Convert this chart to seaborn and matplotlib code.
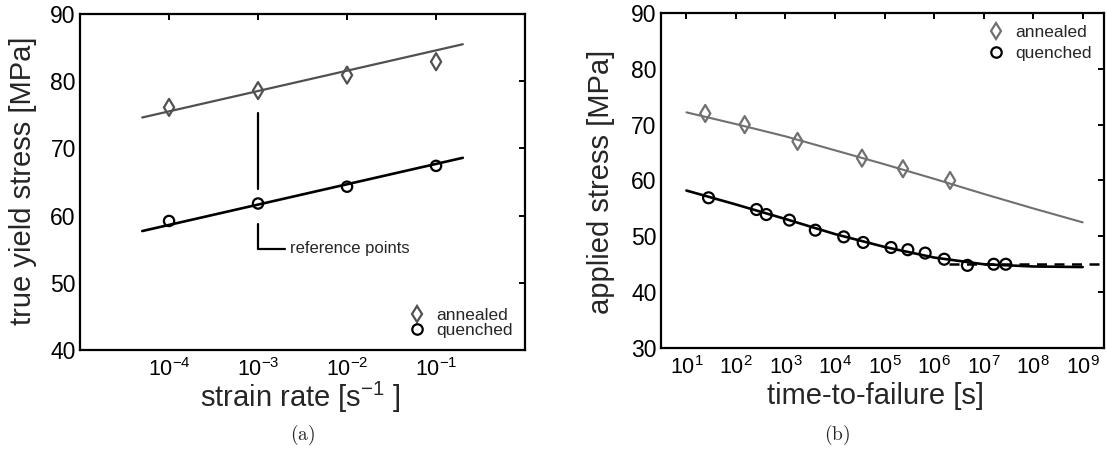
import numpy as np
import pandas as pd
import matplotlib
matplotlib.use("Agg")
import matplotlib.pyplot as plt
from matplotlib.lines import Line2D
from matplotlib.ticker import NullLocator, FixedLocator
import seaborn as sns

# ---------------- data ----------------
# panel (a): true yield stress vs strain rate
rate = [1e-4, 1e-3, 1e-2, 1e-1]
yield_annealed = [76.1, 78.6, 80.9, 82.9]
yield_quenched = [59.2, 61.8, 64.3, 67.4]
fit_rate = [5e-5, 2e-1]
fit_yield_annealed = [74.6, 85.5]
fit_yield_quenched = [57.7, 68.6]
ref_rate = 1e-3
ref_upper_y = [75.3, 63.9]
ref_lower_y = [58.8, 55.1]
ref_hook_x = [1e-3, 2.0e-3]
ref_label = "reference points"

# panel (b): applied stress vs time-to-failure
ttf_annealed = [24, 150, 1.75e3, 3.5e4, 2.35e5, 2.1e6]
stress_annealed = [72.0, 70.0, 67.0, 64.0, 62.1, 60.0]
ttf_quenched = [28, 2.6e2, 4.1e2, 1.2e3, 4.0e3, 1.5e4, 3.7e4, 1.35e5,
                2.95e5, 6.6e5, 1.6e6, 4.7e6, 1.6e7, 2.8e7]
stress_quenched = [56.9, 54.8, 53.9, 52.9, 51.1, 49.9, 48.9, 48.0,
                   47.6, 47.0, 45.9, 44.8, 45.0, 45.0]
fit_ttf = [1e1, 1e2, 1e3, 1e4, 1e5, 1e6, 1e7, 1e8, 1e9]
fit_stress_annealed = [72.2, 70.1, 67.9, 65.4, 62.9, 60.3, 57.6, 55.0, 52.5]
fit_stress_quenched = [58.2, 55.7, 53.1, 50.4, 48.1, 46.2, 45.0, 44.6, 44.5]
limit_ttf = [2.0e6, 2.7e9]
limit_stress = [45.0, 45.0]

rate_ticks = [1e-4, 1e-3, 1e-2, 1e-1]
ttf_ticks = [1e1, 1e2, 1e3, 1e4, 1e5, 1e6, 1e7, 1e8, 1e9]
yticks_a = [40, 50, 60, 70, 80, 90]
yticks_b = [30, 40, 50, 60, 70, 80, 90]
labels = ["annealed", "quenched"]

# ---------------- style ----------------
sns.set_style("white")
plt.rcParams["font.family"] = ["Liberation Sans", "DejaVu Sans"]
plt.rcParams["mathtext.fontset"] = "custom"
plt.rcParams["mathtext.rm"] = "Liberation Sans"
plt.rcParams["mathtext.it"] = "Liberation Sans:italic"
plt.rcParams["mathtext.bf"] = "Liberation Sans:bold"
plt.rcParams["axes.linewidth"] = 1.6
plt.rcParams["axes.edgecolor"] = "black"

GREY_A = "#505050"
GREY_B = "#707070"

fig = plt.figure(figsize=(11.07, 4.59), dpi=100)
ax1 = fig.add_axes([0.0723, 0.2375, 0.402, 0.732])
ax2 = fig.add_axes([0.5968, 0.2418, 0.4005, 0.730])

# ---------------- panel (a) ----------------
sns.lineplot(x=fit_rate, y=fit_yield_annealed, ax=ax1, color=GREY_A, lw=1.6)
sns.lineplot(x=fit_rate, y=fit_yield_quenched, ax=ax1, color="black", lw=1.9)
sns.scatterplot(x=rate, y=yield_annealed, ax=ax1, marker="d", s=75,
                facecolors="none", edgecolors=GREY_A, linewidths=1.6, zorder=4)
sns.scatterplot(x=rate, y=yield_quenched, ax=ax1, marker="o", s=55,
                facecolors="none", edgecolors="black", linewidths=1.6, zorder=4)
# reference-points bracket
ax1.plot([ref_rate, ref_rate], ref_upper_y, color="black", lw=1.6)
ax1.plot([ref_rate, ref_rate], ref_lower_y, color="black", lw=1.6)
ax1.plot(ref_hook_x, [ref_lower_y[1], ref_lower_y[1]], color="black", lw=1.6)
ax1.text(2.3e-3, ref_lower_y[1], ref_label, fontsize=12, va="center", ha="left")

ax1.set_xscale("log")
ax1.set_xlim(1e-5, 1e0)
ax1.set_ylim(40, 90)
ax1.xaxis.set_major_locator(FixedLocator(rate_ticks))
ax1.xaxis.set_minor_locator(NullLocator())
ax1.set_yticks(yticks_a)
ax1.set_xlabel(r"strain rate [s$^{-1}$ ]", fontsize=21)
ax1.set_ylabel("true yield stress [MPa]", fontsize=21)
ax1.yaxis.set_label_coords(-0.097, 0.503)
ax1.xaxis.set_label_coords(0.4955, -0.09)

h_ann_a = Line2D([], [], ls="none", marker="d", ms=8.5, mfc="none", mec=GREY_A, mew=1.6)
h_que = Line2D([], [], ls="none", marker="o", ms=7.5, mfc="none", mec="black", mew=1.6)
ax1.legend([h_ann_a, h_que], labels, loc="lower right", frameon=False,
           fontsize=12.5, handlelength=1.0, handletextpad=0.6,
           labelspacing=0.0, borderaxespad=0.3)

# ---------------- panel (b) ----------------
sns.lineplot(x=fit_ttf, y=fit_stress_annealed, ax=ax2, color=GREY_B, lw=1.5)
sns.lineplot(x=fit_ttf, y=fit_stress_quenched, ax=ax2, color="black", lw=1.9)
sns.lineplot(x=limit_ttf, y=limit_stress, ax=ax2, color="black", lw=1.8,
             linestyle=(0, (4, 3)))
sns.scatterplot(x=ttf_annealed, y=stress_annealed, ax=ax2, marker="d", s=75,
                facecolors="none", edgecolors=GREY_B, linewidths=1.6, zorder=4)
sns.scatterplot(x=ttf_quenched, y=stress_quenched, ax=ax2, marker="o", s=62,
                facecolors="none", edgecolors="black", linewidths=1.6, zorder=4)

ax2.set_xscale("log")
ax2.set_xlim(10 ** 0.48, 10 ** 9.43)
ax2.set_ylim(30, 90)
ax2.xaxis.set_major_locator(FixedLocator(ttf_ticks))
ax2.xaxis.set_minor_locator(NullLocator())
ax2.set_yticks(yticks_b)
ax2.set_xlabel("time-to-failure [s]", fontsize=21)
ax2.set_ylabel("applied stress [MPa]", fontsize=21)
ax2.yaxis.set_label_coords(-0.1035, 0.496)
ax2.xaxis.set_label_coords(0.4846, -0.1)

h_ann_b = Line2D([], [], ls="none", marker="d", ms=8.5, mfc="none", mec=GREY_B, mew=1.6)
ax2.legend([h_ann_b, h_que], labels, loc="upper right", frameon=False,
           fontsize=12.5, handlelength=1.0, handletextpad=0.6,
           labelspacing=0.3, borderaxespad=0.3)

for ax in (ax1, ax2):
    ax.tick_params(axis="both", which="major", direction="in", length=4,
                   width=1.4, top=True, right=True, colors="black")
    ax.tick_params(axis="x", labelsize=15.5, pad=6)
    ax.tick_params(axis="y", labelsize=16.5, pad=3)
    for sp in ax.spines.values():
        sp.set_visible(True)
        sp.set_color("black")
        sp.set_linewidth(1.6)

fig.text(0.273, 0.052, r"$\mathrm{(a)}$", fontsize=14, ha="center", va="center",
         math_fontfamily="cm")
fig.text(0.756, 0.052, r"$\mathrm{(b)}$", fontsize=14, ha="center", va="center",
         math_fontfamily="cm")

fig.savefig("out.png", dpi=100)
